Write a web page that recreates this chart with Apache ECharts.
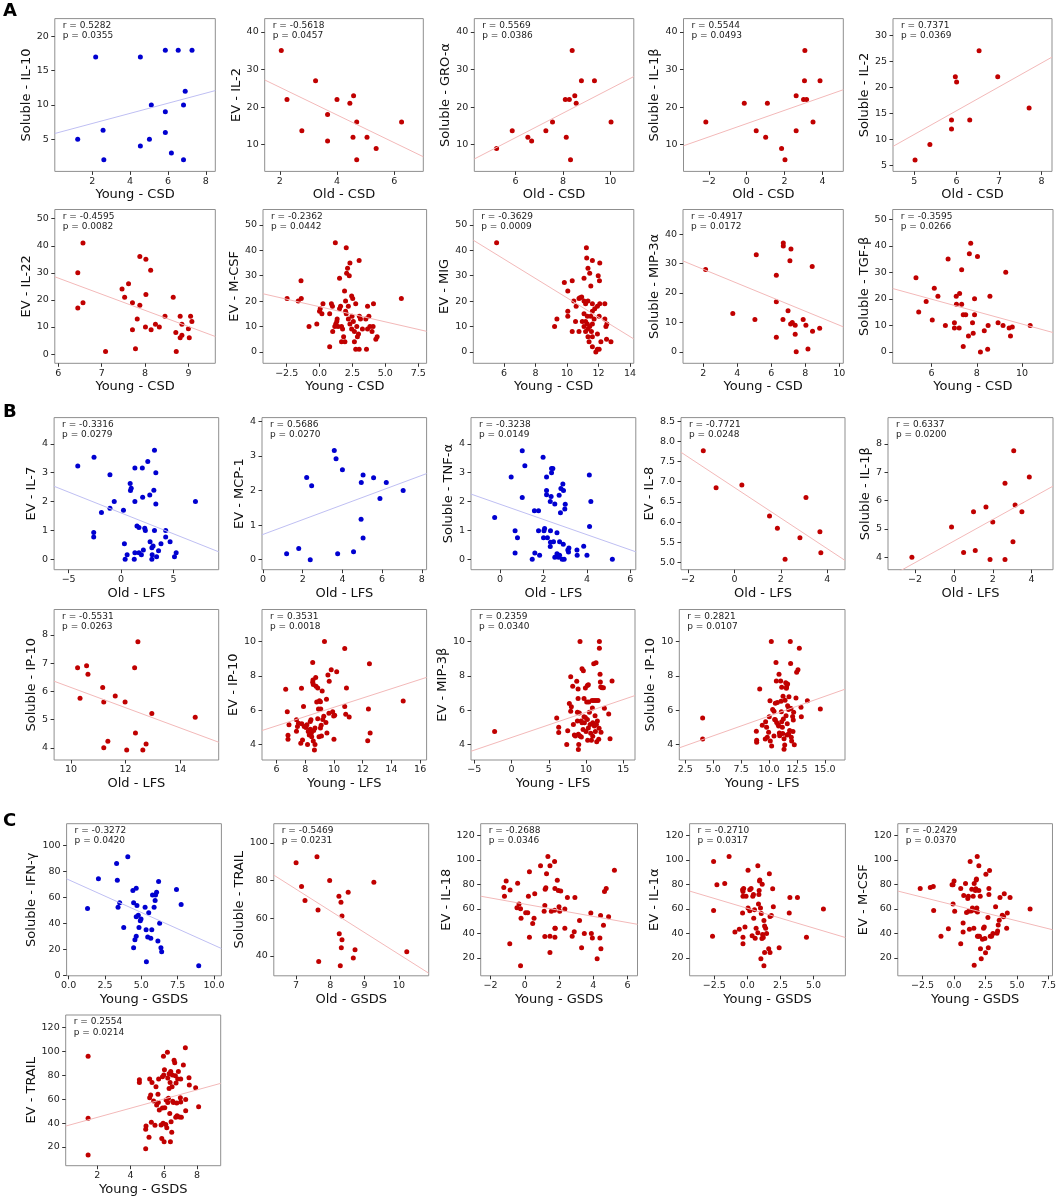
<!DOCTYPE html>
<html>
<head>
  <meta charset="utf-8">
  <title>Correlation scatter panels</title>
  <script src="https://cdn.jsdelivr.net/npm/echarts@6/dist/echarts.min.js"></script>
</head>
<body style="margin: 0; background: #fff">
<div id="container" style="width: 1059px; height: 1202px"></div>
<script>
  // ---- labels ----
  var yNames = ['Soluble - IL-10', 'EV - IL-2', 'Soluble - GRO-\u03b1', 'Soluble - IL-1\u03b2', 'Soluble - IL-2',
    'EV - IL-22', 'EV - M-CSF', 'EV - MIG', 'Soluble - MIP-3\u03b1', 'Soluble - TGF-\u03b2',
    'EV - IL-7', 'EV - MCP-1', 'Soluble - TNF-\u03b1', 'EV - IL-8', 'Soluble - IL-1\u03b2',
    'Soluble - IP-10', 'EV - IP-10', 'EV - MIP-3\u03b2', 'Soluble - IP-10',
    'Soluble - IFN-\u03b3', 'Soluble - TRAIL', 'EV - IL-18', 'EV - IL-1\u03b1', 'EV - M-CSF', 'EV - TRAIL'];
  var xNames = ['Young - CSD', 'Old - CSD', 'Old - CSD', 'Old - CSD', 'Old - CSD',
    'Young - CSD', 'Young - CSD', 'Young - CSD', 'Young - CSD', 'Young - CSD',
    'Old - LFS', 'Old - LFS', 'Old - LFS', 'Old - LFS', 'Old - LFS',
    'Old - LFS', 'Young - LFS', 'Young - LFS', 'Young - LFS',
    'Young - GSDS', 'Old - GSDS', 'Young - GSDS', 'Young - GSDS', 'Young - GSDS', 'Young - GSDS'];
  var rValues = ['0.5282', '-0.5618', '0.5569', '0.5544', '0.7371', '-0.4595', '-0.2362', '-0.3629', '-0.4917', '-0.3595',
    '-0.3316', '0.5686', '-0.3238', '-0.7721', '0.6337', '-0.5531', '0.3531', '0.2359', '0.2821',
    '-0.3272', '-0.5469', '-0.2688', '-0.2710', '-0.2429', '0.2554'];
  var pValues = ['0.0355', '0.0457', '0.0386', '0.0493', '0.0369', '0.0082', '0.0442', '0.0009', '0.0172', '0.0266',
    '0.0279', '0.0270', '0.0149', '0.0248', '0.0200', '0.0263', '0.0018', '0.0340', '0.0107',
    '0.0420', '0.0231', '0.0346', '0.0317', '0.0370', '0.0214'];

  // ---- axis ranges and ticks ----
  var xRange = [[0.02, 8.5], [1.47, 7.02], [4.26, 10.99], [-3.34, 5.1], [4.5, 8.25],
    [5.92, 9.62], [-4.3, 8.14], [4.05, 14.24], [0.81, 10.24], [4.28, 11.37],
    [-6.39, 9.32], [-0.05, 8.24], [-1.34, 6.25], [-2.3, 4.76], [-3.39, 5.1],
    [9.38, 15.41], [4.99, 16.45], [-5.44, 16.57], [1.96, 16.8],
    [-0.14, 10.51], [6.35, 10.87], [-2.58, 6.59], [-4.36, 7.4], [-4.47, 7.82], [0.09, 9.43]];
  var xTicks = [[2, 4, 6, 8], [2, 4, 6], [6, 8, 10], [-2, 0, 2, 4], [5, 6, 7, 8],
    [6, 7, 8, 9], [-2.5, 0, 2.5, 5, 7.5], [6, 8, 10, 12, 14], [2, 4, 6, 8, 10], [6, 8, 10],
    [-5, 0, 5], [0, 2, 4, 6, 8], [0, 2, 4, 6], [-2, 0, 2, 4], [-2, 0, 2, 4],
    [10, 12, 14], [6, 8, 10, 12, 14, 16], [-5, 0, 5, 10, 15], [2.5, 5, 7.5, 10, 12.5, 15],
    [0, 2.5, 5, 7.5, 10], [7, 8, 9, 10], [-2, 0, 2, 4, 6], [-2.5, 0, 2.5, 5], [-2.5, 0, 2.5, 5, 7.5], [2, 4, 6, 8]];
  var yRange = [[0.31, 22.6], [2.9, 43.5], [2.9, 43.5], [2.9, 43.5], [3.83, 33.2],
    [-3.4, 53.4], [-4.5, 56.1], [-4.5, 56.1], [-3.9, 48.4], [-4.3, 53.7],
    [-0.36, 4.91], [-0.29, 4.11], [-0.36, 4.91], [4.82, 8.59], [3.56, 8.93],
    [3.57, 8.9], [3.09, 11.87], [3.09, 11.87], [3.09, 11.87],
    [-0.5, 117], [29.4, 110.2], [5.3, 129.7], [5.3, 129.7], [5.3, 129.7], [4.4, 130.3]];
  var yTicks = [[5, 10, 15, 20], [10, 20, 30, 40], [10, 20, 30, 40], [10, 20, 30, 40], [5, 10, 15, 20, 25, 30],
    [0, 10, 20, 30, 40, 50], [0, 10, 20, 30, 40, 50], [0, 10, 20, 30, 40, 50], [0, 10, 20, 30, 40], [0, 10, 20, 30, 40, 50],
    [0, 1, 2, 3, 4], [0, 1, 2, 3, 4], [0, 1, 2, 3, 4], [5, 5.5, 6, 6.5, 7, 7.5, 8, 8.5], [4, 5, 6, 7, 8],
    [4, 5, 6, 7, 8], [4, 6, 8, 10], [4, 6, 8, 10], [4, 6, 8, 10],
    [0, 20, 40, 60, 80, 100], [40, 60, 80, 100], [20, 40, 60, 80, 100, 120], [20, 40, 60, 80, 100, 120],
    [20, 40, 60, 80, 100, 120], [20, 40, 60, 80, 100, 120]];

  // ---- points per panel [x, y] ----
  var il10Young = [[1.23,5],[2.18,17],[2.57,6.3],[2.61,2],[4.54,17],[4.54,4],[5.02,5],[5.12,10],[5.86,18],[5.86,9],[5.86,6],[6.54,18],[6.18,3],[7.27,18],[6.91,12],[6.82,10],[6.82,2]];
  var evIl2Old = [[2.05,35],[2.25,22],[2.77,13.7],[3.25,27],[3.67,18],[3.67,11],[4.0,22],[4.45,21],[4.58,23],[4.56,12],[4.69,16],[4.69,6],[5.05,12],[5.37,9],[6.26,16]];
  var groOld = [[5.2,9],[5.86,13.7],[6.52,12],[6.68,11],[7.28,13.7],[7.56,16],[8.14,12],[8.1,22],[8.27,22],[8.5,23],[8.56,21],[8.39,35],[8.32,6],[8.78,27],[9.33,27],[10.03,16]];
  var il1bOldCsd = [[-2.16,16],[-0.13,21],[0.5,13.7],[1.0,12],[1.09,21],[1.84,9],[2.02,6],[2.61,23],[2.61,13.7],[3.07,35],[3.05,27],[3.0,22],[3.16,22],[3.5,16],[3.87,27]];
  var solIl2Old = [[5.02,6],[5.37,9],[5.88,13.7],[5.88,12],[5.97,22],[6.0,21],[6.31,13.7],[6.53,27],[6.97,22],[7.71,16]];
  var il22Young = [[6.57,41],[6.45,30],[6.45,17],[6.57,19],[7.09,1],[7.47,24],[7.53,21],[7.62,26],[7.71,19],[7.71,9],[7.78,2],[7.82,13],[7.88,36],[7.88,18],[8.02,35],[8.02,22],[8.01,10],[8.13,31],[8.14,9],[8.24,11],[8.33,10],[8.46,14],[8.65,21],[8.71,8],[8.72,1],[8.81,14],[8.85,11],[8.81,6],[8.85,7],[9.0,9.4],[9.05,14],[9.08,12],[9.02,6]];
  var mcsfYoungCsd = [[-2.47,21],[-1.41,28],[-1.62,20],[-1.39,21],[-0.8,10],[-0.21,11],[0.0,16],[0.05,17],[0.18,15],[0.26,19],[0.77,2],[0.77,15],[0.9,19],[0.98,18],[1.0,8],[1.16,10],[1.23,11],[1.31,12],[1.34,13],[1.2,43],[1.52,29],[1.41,10],[1.52,17],[1.6,18],[1.67,10],[1.75,9],[1.83,6],[1.67,4],[1.93,4],[1.9,24],[1.98,20],[1.98,16],[2.03,15],[2.03,41],[2.06,31],[2.13,33],[2.19,18],[2.26,30],[2.31,35],[2.19,13],[2.31,11],[2.44,22],[2.52,21],[2.47,14],[2.44,9],[2.57,12],[2.65,8],[2.65,4],[2.75,19],[2.75,1],[2.83,10],[2.88,6],[2.96,7],[3.01,36],[3.01,1],[3.03,14],[3.11,13],[3.26,9],[3.52,13],[3.57,1],[3.65,18],[3.65,9],[3.75,14],[3.83,10],[3.99,8],[4.07,10],[4.1,19],[4.28,5],[4.38,6],[6.22,21]];
  var migYoung = [[5.53,43],[11.23,41],[11.25,37],[11.33,33],[11.61,36],[12.08,35],[11.08,29],[11.44,31],[11.98,30],[12.06,28],[11.51,26],[9.83,27.3],[10.33,28],[10.05,24],[10.93,21.6],[10.76,21],[10.82,21.3],[10.43,20],[10.58,18],[11.08,20],[11.18,19],[11.33,20],[11.61,19],[11.93,18],[12.08,19],[12.4,19],[11.76,17],[11.61,16],[10.05,16],[10.05,14],[11.08,15],[11.29,14],[11.51,14],[11.72,13],[12.04,14],[12.4,13],[10.54,12],[11.18,12],[11.61,11],[9.36,13],[9.21,10],[10.33,8],[11.08,10],[11.33,9],[11.44,10],[12.53,11],[12.47,10],[10.76,8],[11.55,8],[11.93,7],[11.33,6],[11.61,6],[12.15,4],[12.51,5],[12.79,4],[11.4,4],[11.61,2],[11.93,1],[11.83,0],[12.04,1],[11.29,11],[11.18,8],[10.97,12]];
  var mip3aYoung = [[2.14,28],[3.74,13],[5.12,33],[5.04,11],[6.3,26],[6.3,17],[6.3,5],[6.71,37],[6.71,36],[6.69,11],[6.99,14],[7.16,35],[7.1,31],[7.14,9.5],[7.24,10],[7.41,9],[7.41,6],[7.47,0],[7.88,11],[8.04,9],[8.16,1],[8.41,29],[8.43,7],[8.85,8]];
  var tgfbYoung = [[5.31,28],[5.43,15],[5.76,19],[6.03,12],[6.12,24],[6.28,21],[6.61,10],[6.73,35],[7.01,11],[7.01,9],[7.09,21],[7.1,18],[7.22,9],[7.24,22],[7.33,31],[7.33,18],[7.4,14],[7.4,2],[7.51,14],[7.63,6],[7.67,37],[7.73,41],[7.81,11],[7.84,7],[7.9,20],[7.9,14],[8.03,36],[8.16,0],[8.33,8],[8.48,1],[8.5,10],[8.58,21],[8.94,11],[9.16,10],[9.28,30],[9.43,9],[9.49,6],[9.57,9.4],[10.36,10]];
  var il7Old = [[-4.13,3.23],[-2.58,3.54],[-2.61,0.93],[-2.61,0.77],[-1.87,1.62],[-1.06,2.93],[-1.06,1.77],[-0.65,2.0],[0.23,1.7],[0.32,0.54],[0.39,0],[0.58,0.16],[0.87,2.63],[0.97,2.46],[0.9,2.38],[1.32,3.16],[1.32,2.0],[1.32,0.23],[1.26,0],[1.52,1.15],[1.71,1.1],[1.71,0.23],[1.94,0.16],[2.03,3.16],[2.06,2.15],[2.13,0.32],[2.26,1.08],[2.32,1.0],[2.55,3.39],[2.74,2.23],[2.77,0.61],[2.94,0.4],[2.94,0],[2.97,0.16],[3.06,0.46],[3.13,2.39],[3.19,3.78],[3.19,1.0],[3.32,3.0],[3.32,1.92],[3.39,0.09],[3.58,0.3],[3.81,0.54],[4.26,1.0],[4.26,0.77],[4.68,0.61],[5.1,0.09],[5.26,0.23],[7.1,2.0]];
  var mcp1Old = [[1.19,0.17],[1.8,0.32],[2.2,2.38],[2.38,0],[2.45,2.14],[3.59,3.16],[3.68,2.92],[3.76,0.17],[4.0,2.6],[4.56,0.23],[4.94,1.17],[4.95,2.23],[5.04,2.45],[5.04,0.63],[5.57,2.37],[5.89,1.77],[6.21,2.23],[7.06,2.0]];
  var tnfaOld = [[-0.25,1.45],[0.51,2.85],[0.69,0.99],[0.69,0.22],[0.8,0.75],[1.02,3.76],[1.02,2.14],[1.14,3.24],[1.48,0],[1.58,1.68],[1.6,0.22],[1.77,1.68],[1.77,0.99],[1.82,0.14],[1.98,3.54],[2.0,0.75],[2.05,1.07],[2.02,0.99],[2.14,2.85],[2.14,2.38],[2.14,2.24],[2.18,0.75],[2.31,2.0],[2.32,0.99],[2.31,0.44],[2.32,0.59],[2.37,3.15],[2.43,3.15],[2.37,3.0],[2.35,2.18],[2.46,0.61],[2.52,1.92],[2.52,0.07],[2.62,0.92],[2.62,0.19],[2.69,0.07],[2.72,2.22],[2.74,0.61],[2.74,0.14],[2.78,1.61],[2.8,2.45],[2.86,0],[2.89,2.61],[2.91,0.52],[2.92,2.38],[2.95,0],[2.98,1.74],[3.0,1.91],[3.12,0.32],[3.15,0.25],[3.17,0.39],[3.54,0.32],[3.55,0.14],[3.85,0.45],[4.0,0.14],[4.11,2.92],[4.12,1.14],[4.18,2.0],[5.17,0]];
  var il8Old = [[-1.34,7.77],[-0.79,6.85],[0.32,6.92],[1.51,6.15],[1.85,5.85],[2.18,5.08],[2.82,5.61],[3.08,6.61],[3.68,5.76],[3.72,5.24]];
  var il1bOldLfs = [[-2.16,4.0],[-0.12,5.07],[0.5,4.17],[1.01,5.61],[1.1,4.24],[1.65,5.77],[1.86,3.92],[2.0,5.24],[2.63,6.61],[2.63,3.92],[3.04,4.55],[3.08,7.76],[3.15,5.84],[3.5,5.61],[3.88,6.83]];
  var ip10SolOld = [[10.24,6.84],[10.57,6.91],[10.62,6.61],[10.33,5.76],[11.16,6.14],[11.2,5.62],[11.2,4.0],[11.35,4.23],[11.62,5.84],[11.98,5.62],[12.04,3.92],[12.33,6.84],[12.45,7.76],[12.36,4.53],[12.63,3.92],[12.75,4.14],[12.96,5.22],[14.55,5.08]];
  var ip10EvYoung = [[6.64,7.22],[6.75,5.91],[6.8,4.53],[6.8,4.3],[6.87,5.14],[7.39,5.44],[7.46,5.05],[7.39,4.77],[7.53,5.24],[7.74,7.28],[7.69,4.06],[7.76,5.2],[7.81,4.26],[7.88,6.21],[7.93,5.05],[8.05,4.99],[8.12,5.14],[8.16,4.0],[8.21,4.75],[8.28,4.55],[8.35,5.34],[8.4,5.44],[8.35,4.89],[8.42,4.65],[8.45,4.45],[8.52,7.63],[8.52,8.78],[8.54,7.75],[8.56,7.49],[8.56,4.2],[8.64,3.68],[8.68,4.0],[8.59,4.81],[8.68,4.95],[8.73,7.91],[8.75,7.39],[8.87,7.29],[8.8,6.47],[8.87,5.5],[8.92,6.07],[8.99,6.55],[8.96,4.45],[9.06,4.95],[9.11,5.11],[9.06,6.49],[9.08,6.07],[9.13,4.49],[9.18,7.12],[9.22,5.46],[9.29,5.64],[9.34,10.0],[9.44,5.28],[9.51,4.67],[9.48,6.64],[9.58,8.05],[9.67,7.69],[9.65,5.82],[9.81,8.36],[9.91,5.91],[9.98,5.66],[10.0,4.3],[10.05,5.7],[10.19,8.24],[10.75,9.6],[10.75,6.21],[10.82,5.76],[10.87,7.29],[11.06,5.6],[12.35,4.22],[12.4,6.07],[12.47,8.7],[12.52,4.67],[14.82,6.53]];
  var mip3bYoung = [[-2.27,4.75],[6.06,5.54],[6.33,5.0],[6.33,4.69],[7.41,4.0],[7.54,4.79],[7.76,6.38],[7.94,7.94],[7.94,5.93],[8.03,6.19],[8.21,7.39],[8.3,5.16],[8.43,4.55],[8.57,4.49],[8.75,7.68],[8.84,5.87],[8.84,5.36],[8.93,7.23],[8.93,6.68],[8.97,4.59],[9.02,4.0],[8.97,3.7],[9.1,5.83],[9.19,10.0],[9.19,4.49],[9.33,5.36],[9.37,4.43],[9.46,8.41],[9.46,5.26],[9.6,4.87],[9.64,8.29],[9.73,6.68],[9.73,5.61],[9.78,5.26],[9.91,7.29],[9.91,5.57],[10.0,4.75],[10.09,6.48],[10.18,7.43],[10.18,5.46],[10.22,4.24],[10.31,7.48],[10.31,4.96],[10.36,6.48],[10.45,5.87],[10.54,5.16],[10.63,4.65],[10.72,4.24],[10.81,6.56],[10.85,6.13],[10.9,5.26],[10.9,4.47],[11.03,8.7],[11.07,6.56],[11.12,5.08],[11.21,5.67],[11.25,4.75],[11.34,8.76],[11.34,6.56],[11.39,5.16],[11.43,4.16],[11.52,5.36],[11.61,6.56],[11.7,4.3],[11.75,4.94],[11.79,10.0],[11.79,9.61],[11.88,8.09],[11.92,7.64],[11.97,7.35],[12.01,4.71],[12.15,7.31],[12.33,7.31],[12.46,6.11],[13.04,5.77],[13.22,4.33],[13.49,7.7]];
  var ip10SolYoung = [[4.05,5.54],[4.05,4.31],[9.16,7.23],[8.86,4.77],[8.89,4.24],[8.89,4.12],[9.39,5.12],[9.69,5.32],[9.66,4.31],[9.78,5.0],[9.84,4.41],[9.96,4.71],[10.02,5.61],[10.08,6.54],[10.11,4.2],[10.2,10.0],[10.23,3.9],[10.32,6.03],[10.44,5.93],[10.44,4.49],[10.5,5.46],[10.56,6.4],[10.56,5.44],[10.62,8.78],[10.65,7.7],[10.68,5.28],[10.74,6.44],[10.8,5.16],[10.86,5.08],[10.89,8.09],[10.92,4.67],[10.95,4.51],[11.04,7.7],[11.07,6.52],[11.1,5.91],[11.13,7.33],[11.13,5.32],[11.19,5.0],[11.22,4.63],[11.25,6.81],[11.28,5.48],[11.34,3.72],[11.34,4.33],[11.4,3.96],[11.43,6.58],[11.49,7.6],[11.52,5.67],[11.55,7.27],[11.57,7.37],[11.6,4.55],[11.63,5.2],[11.66,7.52],[11.66,6.26],[11.75,6.03],[11.75,4.61],[11.78,6.78],[11.84,4.81],[11.87,6.11],[11.9,10.0],[11.93,8.72],[11.96,6.09],[11.99,4.41],[12.02,4.2],[12.11,5.63],[12.14,4.75],[12.17,5.42],[12.2,5.87],[12.26,3.98],[12.41,6.7],[12.47,8.21],[12.59,8.35],[12.71,9.61],[12.86,6.17],[12.89,5.61],[13.43,6.54],[14.59,6.07]];
  var ifngYoung = [[1.3,51.4],[2.05,74.4],[3.3,86.2],[3.35,73.4],[3.4,52.5],[3.51,55.9],[3.79,36.8],[4.07,91.4],[4.42,65.3],[4.47,55.9],[4.47,21.1],[4.56,27.4],[4.65,67.1],[4.65,30],[4.7,53.8],[4.65,45.2],[4.79,46.2],[4.84,36.8],[4.93,42],[4.98,43.3],[5.26,52.5],[5.33,35],[5.35,10.4],[5.51,48.3],[5.44,29.5],[5.65,28.5],[5.72,35],[5.77,61.9],[5.88,52.5],[5.95,57.7],[5.98,61.9],[6.05,64],[6.14,26.4],[6.19,72.3],[6.26,40],[6.35,21.1],[6.4,18],[7.42,66.1],[7.74,54.6],[8.95,7.3]];
  var trailSolOld = [[7.0,89.4],[7.16,76.8],[7.26,69.4],[7.61,92.6],[7.64,64.4],[7.66,37],[7.98,80],[8.25,71.6],[8.31,68.5],[8.26,51.7],[8.34,48.6],[8.32,44.3],[8.29,34.8],[8.34,61.2],[8.52,73.8],[8.72,43.2],[8.67,38.9],[9.27,79.1],[10.23,42.2]];
  var il18Young = [[-1.23,77.6],[-1.19,70.4],[-1.09,82.9],[-0.86,75.4],[-0.88,31.6],[-0.42,80.9],[-0.46,61],[-0.34,64],[-0.25,60.2],[-0.22,52.4],[-0.25,13.6],[0.05,56.8],[0.17,56.8],[0.21,70.4],[0.27,36.9],[0.27,90.4],[0.58,72.4],[0.54,52.4],[0.46,48],[0.92,95.3],[1.35,102.8],[1.47,95.3],[1.74,98.7],[1.27,88.7],[1.23,77.3],[1.19,76],[1.17,62.7],[1.13,58],[1.17,37.5],[1.47,37.7],[1.47,24.4],[1.55,58],[1.74,59],[1.76,76.8],[1.76,44.1],[1.76,36.9],[1.78,44.1],[1.9,83.4],[1.96,75.1],[2.0,61.8],[2.04,58],[2.1,74.6],[2.34,59.9],[2.34,44.1],[2.49,69.3],[2.77,37.7],[2.89,41.3],[2.93,69.3],[3.2,50.5],[3.32,28.3],[3.48,39.9],[3.86,56.6],[3.89,39.9],[3.95,36.3],[4.23,19.2],[4.39,36.3],[4.43,54.6],[4.45,27.5],[4.6,46.6],[4.66,74.3],[4.76,76.8],[4.9,53.5],[5.24,91.7]];
  var il1aYoung = [[-2.55,98.7],[-2.55,58.8],[-2.63,37.7],[-2.3,79.8],[-1.71,80.7],[-1.38,102.8],[-0.94,41.1],[-0.61,43.3],[-0.36,75.7],[-0.33,74.3],[-0.36,56.6],[-0.33,36.9],[-0.33,31.6],[-0.28,76.8],[-0.33,70.4],[-0.1,70.4],[-0.18,45.2],[0.05,91.7],[0.05,60.7],[0.18,75.7],[0.18,58.5],[0.28,76.8],[0.36,38],[0.41,70.4],[0.46,71.8],[0.48,52.4],[0.54,59.3],[0.59,36.1],[0.66,44.1],[0.79,95.3],[0.79,40.5],[0.84,64],[0.87,71.8],[0.89,75.1],[0.92,82.9],[0.94,83.7],[0.99,60.7],[1.02,19.2],[1.05,56.3],[1.1,35.8],[1.12,80.1],[1.15,39.1],[1.2,36.6],[1.25,13.6],[1.25,50.5],[1.3,46],[1.3,24.4],[1.38,44.1],[1.45,39.9],[1.61,27.5],[1.66,88.7],[1.71,53.8],[1.71,24.4],[1.81,54.6],[1.91,76.5],[1.96,61.8],[2.4,28.3],[3.16,56.6],[3.21,69.3],[3.78,69.3],[4.46,36.9],[5.74,59.9]];
  var mcsfYoungGsds = [[-2.69,76.8],[-1.89,77.6],[-1.65,78.4],[-1.62,58.8],[-1.04,37.7],[-0.45,43.8],[-0.16,79.8],[-0.08,79.8],[0.0,82.9],[-0.08,64],[0.05,58],[0.53,76.8],[0.53,31.6],[0.72,48.5],[0.72,41.1],[0.77,71],[0.91,80.7],[0.99,57.1],[1.09,68.5],[1.14,70.4],[1.17,58],[1.22,43.3],[1.28,98.7],[1.36,58.2],[1.41,76],[1.46,60.7],[1.52,70.4],[1.57,44.1],[1.6,13.9],[1.6,80.7],[1.68,59],[1.7,75.1],[1.73,76.5],[1.76,83.7],[1.78,84.5],[1.84,102.8],[1.81,60.7],[1.86,57.4],[1.86,37.7],[1.92,37.7],[1.97,75.1],[1.97,95.3],[2.08,70.4],[2.02,37.7],[2.1,27.5],[2.16,19.2],[2.26,35.2],[2.34,44.1],[2.4,45.2],[2.45,35.8],[2.5,24.2],[2.53,88.4],[2.69,53],[2.72,28.3],[2.77,76.8],[2.77,71.8],[2.82,91.5],[2.88,37.7],[2.98,37.7],[3.09,39.9],[3.3,61.8],[3.41,40.2],[3.46,41.9],[3.51,46.9],[3.59,50.7],[3.65,69.3],[3.83,54.9],[3.94,53.5],[3.99,72.4],[4.18,44.1],[4.23,56.6],[4.45,69.3],[6.04,59.9]];
  var trailEvYoung = [[1.44,95.8],[1.44,44],[1.44,13.3],[4.53,76.3],[4.53,74],[4.93,37.5],[4.91,34.8],[4.91,18.6],[5.11,28.1],[5.15,76.8],[5.15,61.2],[5.21,63.5],[5.25,40.6],[5.29,74],[5.39,58.4],[5.47,38.1],[5.53,70.4],[5.57,55.1],[5.65,64],[5.69,76.8],[5.67,57.3],[5.73,50.9],[5.84,38.4],[5.88,27.2],[5.92,78.8],[5.92,52.6],[5.96,39.8],[5.98,95.8],[6.0,80.2],[6.04,84.6],[6.02,24.5],[6.06,52.9],[6.12,38.9],[6.14,59.3],[6.18,36.2],[6.22,99.1],[6.24,77.7],[6.24,57.3],[6.28,60.7],[6.32,81.3],[6.32,69],[6.36,48.1],[6.38,74],[6.4,24.5],[6.42,83],[6.44,41.2],[6.48,32.3],[6.5,70.4],[6.52,80.2],[6.54,58.2],[6.58,57.3],[6.62,92.4],[6.66,90.5],[6.7,79.6],[6.72,44.8],[6.74,73.5],[6.78,56.8],[6.8,46.2],[6.84,76.8],[6.88,83.2],[6.94,45.1],[7.0,61.2],[7.02,76.8],[7.02,57.6],[7.06,44.8],[7.18,88.5],[7.3,103],[7.32,59.8],[7.32,50.4],[7.52,77.9],[7.54,71.8],[7.92,69.6],[8.1,53.7]];

  var points = [il10Young, evIl2Old, groOld, il1bOldCsd, solIl2Old,
    il22Young, mcsfYoungCsd, migYoung, mip3aYoung, tgfbYoung,
    il7Old, mcp1Old, tnfaOld, il8Old, il1bOldLfs,
    ip10SolOld, ip10EvYoung, mip3bYoung, ip10SolYoung,
    ifngYoung, trailSolOld, il18Young, il1aYoung, mcsfYoungGsds, trailEvYoung];

  // ---- fitted line end points per panel ----
  var fitLines = [[[0.02,5.84],[8.5,12.1]], [[1.47,27.2],[7.02,6.8]], [[4.26,6.2],[10.99,28.1]], [[-3.34,9.7],[5.1,24.6]], [[4.5,8.64],[8.25,25.8]],
    [[5.92,28.55],[9.62,6.5]], [[-4.3,22.9],[8.14,8.1]], [[4.05,44],[14.24,5.1]], [[0.81,30.9],[10.24,8.5]], [[4.28,23.9],[11.37,7.3]],
    [[-6.39,2.53],[9.32,0.26]], [[-0.05,0.72],[8.24,2.49]], [[-1.34,2.26],[6.25,0.26]], [[-2.3,7.73],[4.76,5.05]], [[-3.39,3.28],[5.1,6.51]],
    [[9.38,6.36],[15.41,4.2]], [[4.99,4.81],[16.45,7.91]], [[-5.44,3.6],[16.57,6.85]], [[1.96,3.8],[16.8,7.22]],
    [[-0.14,74.4],[10.51,20.6]], [[6.35,82.9],[10.87,30.8]], [[-2.58,70.4],[6.59,47.4]], [[-4.36,74.6],[7.4,36.6]], [[-4.47,74.6],[7.82,43]], [[0.09,37.5],[9.43,73.2]]];

  // ---- layout: plot boxes [left, top, right, bottom] in px ----
  var boxes = [[54.8,18.6,215.3,171.4], [264.7,18.6,423.3,171.4], [474.3,18.6,633.8,171.4], [683.5,18.6,843.3,171.4], [893,18.6,1052,171.4],
    [54.8,209.5,215.3,363.3], [263,209.5,426.6,363.3], [473.3,209.5,633.8,363.3], [683,209.5,843.3,363.3], [892.7,209.5,1053,363.3],
    [54.1,417.6,218.7,569.7], [262,417.6,426.6,569.7], [471,417.6,635.8,569.7], [681,417.6,845,569.7], [888,417.6,1053,569.7],
    [54.1,609.5,218.7,760], [262,609.5,426.6,760], [471,609.5,635,760], [679.3,609.5,845,760],
    [66.6,823.7,221.4,975.8], [273.8,823.7,428.7,975.8], [480.7,823.7,637.5,975.8], [689.6,823.7,845.4,975.8], [897.8,823.7,1054,975.8],
    [65.7,1015,220.7,1165.7]];
  var bluePanels = [0, 10, 11, 12, 19];

  var FONT = '"DejaVu Sans", sans-serif';

  function decimals(ticks) {
    var dec = 0;
    ticks.forEach(function (t) {
      var s = String(t), k = s.indexOf('.');
      if (k >= 0) dec = Math.max(dec, s.length - k - 1);
    });
    return dec;
  }
  function tickText(v, dec) {
    return v.toFixed(dec).replace('-', '\u2212');
  }
  function textWidth(s) {
    var w = 0;
    for (var i = 0; i < s.length; i++) {
      var c = s[i];
      w += c === '.' ? 3 : (c === '\u2212' ? 8 : 6.1);
    }
    return w;
  }

  var grids = [], xAxes = [], yAxes = [], series = [], graphics = [];

  boxes.forEach(function (b, i) {
    var blue = bluePanels.indexOf(i) >= 0;
    var xd = decimals(xTicks[i]), yd = decimals(yTicks[i]);
    var yGap = 9 + Math.max.apply(null, yTicks[i].map(function (t) { return textWidth(tickText(t, yd)); }));

    grids.push({
      left: b[0], top: b[1], width: b[2] - b[0], height: b[3] - b[1],
      show: true, borderColor: '#8f8f8f', borderWidth: 1, backgroundColor: 'transparent'
    });
    xAxes.push({
      type: 'value', gridIndex: i, min: xRange[i][0], max: xRange[i][1],
      name: xNames[i], nameLocation: 'middle', nameGap: 17,
      nameTextStyle: { fontFamily: FONT, fontSize: 13, color: '#111' },
      axisLine: { show: false, onZero: false },
      splitLine: { show: false },
      axisTick: { show: true, length: 3.5, lineStyle: { color: '#333', width: 1 }, customValues: xTicks[i] },
      axisLabel: {
        customValues: xTicks[i], margin: 5, fontFamily: FONT, fontSize: 9.5, color: '#222',
        formatter: function (v) { return tickText(v, xd); }
      }
    });
    yAxes.push({
      type: 'value', gridIndex: i, min: yRange[i][0], max: yRange[i][1],
      name: yNames[i], nameLocation: 'middle', nameGap: yGap,
      nameTextStyle: { fontFamily: FONT, fontSize: 13, color: '#111' },
      axisLine: { show: false, onZero: false },
      splitLine: { show: false },
      axisTick: { show: true, length: 3.5, lineStyle: { color: '#333', width: 1 }, customValues: yTicks[i] },
      axisLabel: {
        customValues: yTicks[i], margin: 6, fontFamily: FONT, fontSize: 9.5, color: '#222',
        formatter: function (v) { return tickText(v, yd); }
      }
    });
    series.push({
      type: 'line', xAxisIndex: i, yAxisIndex: i, data: fitLines[i],
      showSymbol: false, silent: true, clip: true,
      lineStyle: { color: blue ? '#bfbff3' : '#f3b9b9', width: 1 }
    });
    series.push({
      type: 'scatter', xAxisIndex: i, yAxisIndex: i, data: points[i],
      symbolSize: 5, clip: true,
      itemStyle: { color: blue ? '#0000d0' : '#c00000', opacity: 1 }
    });
    graphics.push({
      type: 'text', left: b[0] + 8, top: b[1] + 1.5, silent: true,
      style: {
        text: 'r = ' + rValues[i] + '\np = ' + pValues[i],
        fontFamily: FONT, fontSize: 9, lineHeight: 10.5, fill: '#222'
      }
    });
  });

  [['A', 2], ['B', 403], ['C', 812]].forEach(function (l) {
    graphics.push({
      type: 'text', left: 3, top: l[1], silent: true,
      style: { text: l[0], fontFamily: FONT, fontSize: 18, fontWeight: 'bold', fill: '#000' }
    });
  });

  var myChart = echarts.init(document.getElementById('container'));
  myChart.setOption({
    animation: false,
    backgroundColor: '#fff',
    grid: grids,
    xAxis: xAxes,
    yAxis: yAxes,
    series: series,
    graphic: graphics
  });
</script>
</body>
</html>
